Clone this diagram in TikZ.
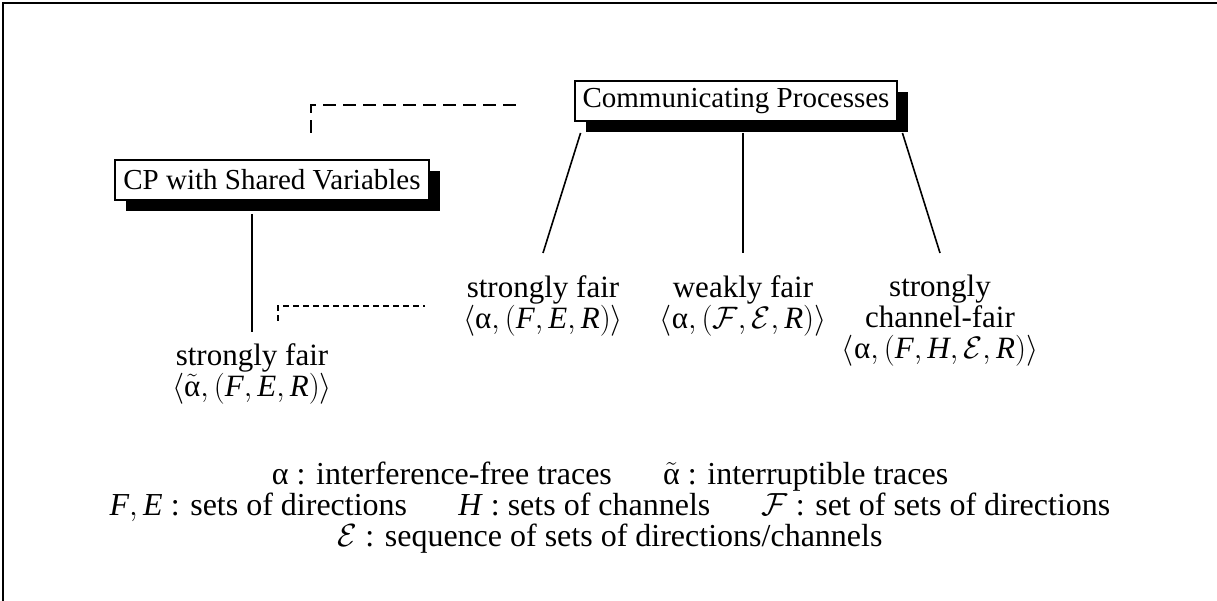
\RequirePackage{fix-cm}
\documentclass[tikz,border=0pt]{standalone}
\usepackage{fontspec}
\setmainfont{Liberation Serif}
\usetikzlibrary{positioning, calc, shadows}
\newcommand{\ualpha}{\mbox{α}}
\newcommand{\talpha}{\tilde{\mbox{α}}}
\begin{document}
\begin{tikzpicture}[x=1pt, y=-1pt,
  every node/.style={font=\fontsize{29}{31}\selectfont},
  pbox/.style={draw, line width=2pt, fill=white, inner xsep=8pt, minimum height=40pt,
               drop shadow={shadow xshift=11pt, shadow yshift=-11pt, fill=black, opacity=1}},
  lab/.style={align=center, inner sep=0pt, anchor=north, font=\fontsize{31}{31}\selectfont},
  link/.style={line width=1.6pt},
  longdash/.style={line width=2pt, dash pattern=on 13pt off 7pt},
  shortdash/.style={line width=2pt, dash pattern=on 6pt off 4pt}]
  \useasboundingbox (0,0) rectangle (1217,601);
  % frame
  \draw[line width=2pt] (3,601) -- (3,3) -- (1217,3);

  % the two process classes
  \node[pbox] (comm) at (736,101) {Communicating Processes};
  \node[pbox] (cpsv) at (272,180) {CP with Shared Variables};

  % fairness notions
  \node[lab] (sfair) at (543,275) {strongly fair\\$\langle\ualpha,(\textit{F},\textit{E},\textit{R})\rangle$};
  \node[lab] (wfair) at (743,275) {weakly fair\\$\langle\ualpha,(\mathcal{F},\mathcal{E},\textit{R})\rangle$};
  \node[lab] (scfair) at (940,275) {strongly\\channel-fair\\$\langle\ualpha,(\textit{F},\textit{H},\mathcal{E},\textit{R})\rangle$};
  \node[lab] (sfsv) at (252,343) {strongly fair\\$\langle\talpha,(\textit{F},\textit{E},\textit{R})\rangle$};

  \draw[link] ([xshift=7pt,yshift=-11pt]comm.south west) -- ([yshift=22pt]sfair.north);
  \draw[link] ($(wfair.north |- comm.south)+(0,11)$) -- ([yshift=22pt]wfair.north);
  \draw[link] ([xshift=4pt,yshift=-11pt]comm.south east) -- ([yshift=22pt]scfair.north);
  \draw[link] ($(sfsv.north |- cpsv.south)+(0,13)$) -- ([yshift=11pt]sfsv.north);

  % dashed relations
  \draw[longdash] ([xshift=-58pt,yshift=-4pt]comm.west) -| ([xshift=39pt,yshift=22pt]cpsv.north);
  \draw[shortdash] ([xshift=26pt,yshift=22pt]sfsv.north) |- ([xshift=-118pt,yshift=-31pt]sfair.north);

  % legend
  \node[lab, font=\fontsize{32}{31}\selectfont] (legend) at (610,462)
    {\ualpha{} : interference-free traces\hspace{1.6em}$\talpha$ : interruptible traces\\
    $\textit{F},\textit{E}$ : sets of directions\hspace{1.6em}\textit{H} : sets of channels\hspace{1.6em}$\mathcal{F}$ : set of sets of directions\\
    $\mathcal{E}$ : sequence of sets of directions/channels};
\end{tikzpicture}
\end{document}
